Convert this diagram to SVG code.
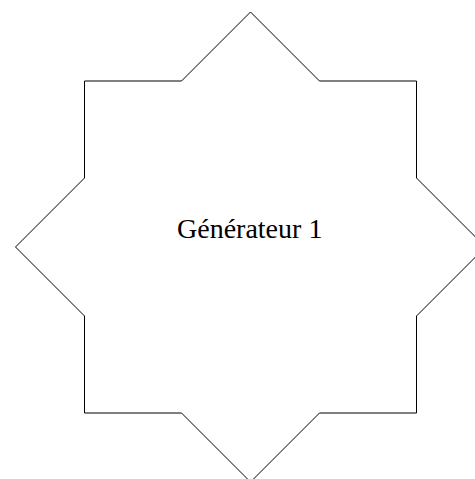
<svg xmlns="http://www.w3.org/2000/svg" width="475" height="479" viewBox="0 0 475 479">
  <style>
    .star { fill: #ffffff; stroke: #000000; stroke-width: 1; }
    .label { font-family: "Liberation Serif", "Times New Roman", serif; font-size: 28px; fill: #000000; text-anchor: middle; }
  </style>
  <rect width="475" height="479" fill="#ffffff"/>
  <g id="generateur1">
    <polygon class="star" points="250.5,12 319.5,81 416.5,81 416.5,178 485.5,247 416.5,316 416.5,413 319.5,413 250.5,482 181.5,413 84.5,413 84.5,316 15.5,247 84.5,178 84.5,81 181.5,81"/>
    <text class="label" x="249.7" y="237.5">Générateur 1</text>
  </g>
  <g id="connectors"></g>
</svg>
